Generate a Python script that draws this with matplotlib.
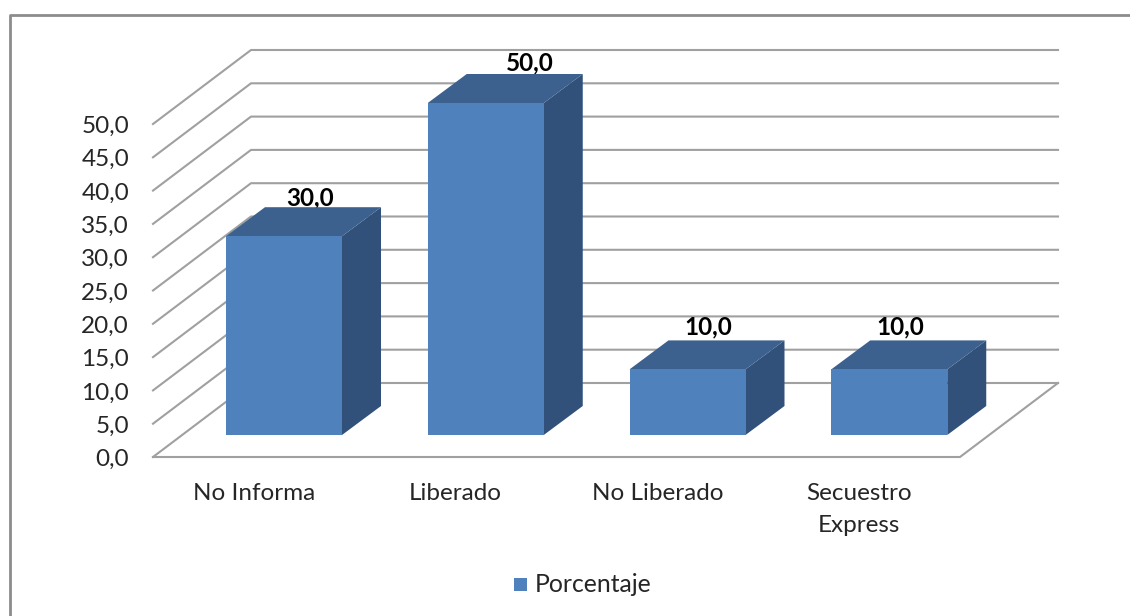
import matplotlib.pyplot as plt
from matplotlib.patches import Polygon, Rectangle

plt.rcParams["font.family"] = ["Lato", "DejaVu Sans"]

categories = ["No Informa", "Liberado", "No Liberado", "Secuestro\nExpress"]
values = [30.0, 50.0, 10.0, 10.0]
yticks = [0, 5, 10, 15, 20, 25, 30, 35, 40, 45, 50]
legend_label = "Porcentaje"

W, H = 1130, 616
FACE = "#4f81bd"
TOP = "#3c618e"
SIDE = "#31517a"
GRID = "#a0a0a0"
TEXT = "#262626"

fig = plt.figure(figsize=(W / 100, H / 100), dpi=100)
ax = fig.add_axes([153 / W, (H - 457) / H, 807 / W, 333 / H])
ax.set_xlim(0, 4)
ax.set_ylim(0, 50)
ax.axis("off")

# px per data unit
sx = 807 / 4
sy = 333 / 50

# depth of the plot box and of the bars
dx, dy = 98 / sx, 74 / sy
bx, by = 39 / sx, 29 / sy
left, width = 73 / sx, 116 / sx
base = 22 / sy

# walls
for v in yticks:
    ax.plot([0, dx, 4 + dx], [v, v + dy, v + dy], color=GRID, lw=1.5, clip_on=False, zorder=1)
ax.plot([0, 4, 4 + dx], [0, 0, dy], color=GRID, lw=1.5, clip_on=False, zorder=1)

# tick labels
for v in yticks:
    ax.text(-24 / sx, v - 2.5 / sy, f"{v:.1f}".replace(".", ","), ha="right", va="center", fontsize=17.5, color=TEXT)
for i, c in enumerate(categories):
    ax.text(i + 0.5, -26.5 / sy, c, ha="center", va="top", fontsize=17.5, color=TEXT, linespacing=1.6)

# bars
label_shift = [26, 44, 21, 11]
label_up = [1.4, 1.7, 2.0, 2.0]
for i, v in enumerate(values):
    x0 = i + left
    x1 = x0 + width
    y0 = base
    y1 = base + v - 0.15
    ax.add_patch(Polygon([(x1, y0), (x1 + bx, y0 + by), (x1 + bx, y1 + by), (x1, y1)], fc=SIDE, ec="none", clip_on=False, zorder=3))
    ax.add_patch(Polygon([(x0, y1), (x0 + bx, y1 + by), (x1 + bx, y1 + by), (x1, y1)], fc=TOP, ec="none", clip_on=False, zorder=3))
    ax.add_patch(Rectangle((x0, y0), width, y1 - y0, fc=FACE, ec="none", clip_on=False, zorder=4))
    ax.text((x0 + x1) / 2 + label_shift[i] / sx, y1 + by + label_up[i], f"{v:.1f}".replace(".", ","),
            ha="center", va="center", fontsize=17.5, fontweight="bold", color="black", zorder=2)

# legend
fig.patches.append(Rectangle((514 / W, 1 - 591 / H), 13 / W, 13 / H, transform=fig.transFigure, fc=FACE, ec="none"))
fig.text(535 / W, 1 - 585 / H, legend_label, ha="left", va="center", fontsize=17.8, color=TEXT)

# chart border, open on the right
fig.add_artist(plt.Line2D([10 / W, 10 / W, 1], [0, 1 - 14.5 / H, 1 - 14.5 / H], color="#8c8c8c", lw=2))

fig.savefig("out.png", dpi=100)
